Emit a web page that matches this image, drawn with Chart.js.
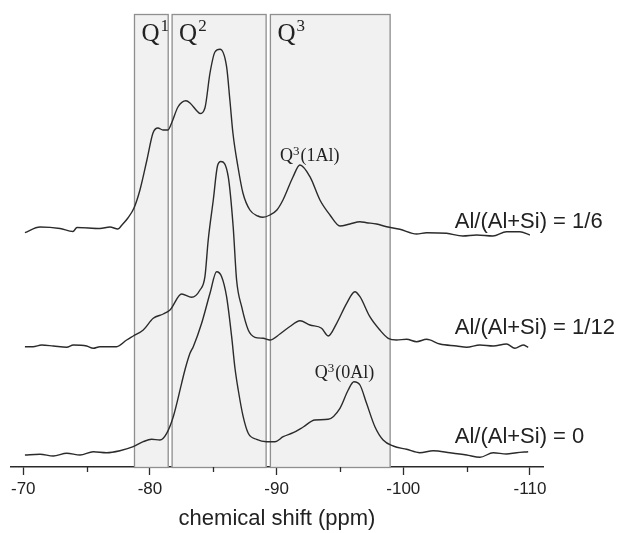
<!DOCTYPE html>
<html><head><meta charset="utf-8">
<script src="https://cdn.jsdelivr.net/npm/chart.js@4/dist/chart.umd.min.js"></script>
<style>html,body{margin:0;padding:0;background:#fff}canvas{display:block}</style>
</head><body>
<canvas id="c" width="619" height="533"></canvas>
<script>
// chemical shift (ppm) and intensity for each sample (stacked)
const shiftA = [-70.13,-71.32,-72.90,-73.92,-74.24,-76.05,-76.84,-77.47,-77.79,-78.26,-78.74,-79.21,-79.76,-80.24,-80.63,-81.03,-81.42,-81.74,-82.21,-82.84,-83.16,-83.71,-83.95,-84.34,-84.74,-85.13,-85.53,-86.05,-86.31,-86.55,-86.95,-87.34,-87.89,-88.52,-88.92,-89.47,-90.02,-90.50,-91.29,-91.84,-92.63,-93.42,-94.21,-95.00,-95.79,-96.58,-97.10,-97.89,-98.68,-99.73,-101.05,-101.84,-103.42,-104.70,-105.79,-107.07,-108.15,-109.20,-109.99];
const intA = [234.3,240,238.5,235.5,239.5,238.5,240,238,242,249,259,277,307,334,339,337,337,345,360,366.3,364,356,353.5,359,394,415,417.7,400.3,367,334,300,274,257,251,249.7,252,257,267,290,302,290.3,267,252,241,243,245.3,244.3,243,240.3,237.7,233,234.3,233.7,231,232,231,235.3,235.3,232];

const shiftB = [-70.13,-70.77,-71.45,-72.37,-73.43,-73.95,-75.00,-75.52,-76.05,-77.37,-78.16,-78.68,-79.47,-80.26,-81.05,-81.58,-82.50,-83.29,-83.95,-84.34,-84.60,-85.00,-85.33,-85.60,-86.18,-86.57,-86.84,-87.24,-87.76,-88.29,-88.94,-89.47,-90.26,-91.05,-91.84,-92.63,-93.55,-94.07,-94.74,-95.53,-96.18,-96.58,-97.36,-98.15,-98.81,-99.47,-100.26,-101.05,-101.84,-102.89,-104.21,-105.00,-106.05,-107.10,-108.15,-108.81,-109.46,-109.86];
const intB = [120.3,120.3,122,121,119.7,122,121,118.7,120.3,120.3,127,131,137,148.7,153,157,173,169.7,177,190.3,227,267,301,305.5,290.3,240.3,187,160.3,137,129.7,128.7,127,133,140.5,146.3,142,138.7,131,143.7,163.7,175.3,170.3,150.3,137,128.7,127,127.7,125.3,127.7,123,121,119.7,122,121,123,118.7,122,119.7];

const shiftC = [-70.13,-71.32,-72.37,-73.43,-74.48,-75.52,-76.58,-77.63,-78.68,-79.47,-80.13,-80.79,-81.32,-81.84,-82.50,-82.76,-83.16,-83.42,-84.08,-84.74,-85.26,-85.66,-86.05,-86.45,-86.71,-86.97,-87.36,-87.76,-88.42,-89.21,-89.87,-90.52,-91.31,-92.10,-93.02,-94.07,-95.00,-95.65,-96.10,-96.58,-97.10,-97.76,-98.41,-99.20,-100.26,-101.31,-102.36,-103.68,-105.00,-106.05,-107.10,-108.15,-108.94,-109.86];
const intC = [12,12.7,11,13.7,12,15.3,14.3,16.3,20.3,25.3,27.7,27,33.7,50.3,83.7,97,113.7,120.3,143.7,173.7,195.3,190.3,170.3,130.3,99,77,50.3,33.7,27.7,25.3,25.3,30.3,34.3,40,47,47.7,58.7,77,85.3,82,63.7,40.3,27,21,17.7,14.3,16.3,14.3,12,9.7,14.3,13,14.3,15.3];

const seriesLabels = ['Al/(Al+Si) = 1/6','Al/(Al+Si) = 1/12','Al/(Al+Si) = 0'];
const majorTicks = [-70,-80,-90,-100,-110];
const minorTicks = [-75,-85,-95,-105];
const regionSup = ['1','2','3'];
const regionStart = [-78.74,-81.71,-89.47];
const regionEnd = [-81.48,-89.21,-99.0];
const peakNames = ['(1Al)','(0Al)'];

const toPts = (xs, ys) => xs.map((x,i)=>({x:x, y:ys[i]}));

const LINE = '#2b2b2b';
const SANS = '"Liberation Sans", Arial, sans-serif';
const SERIF = '"Liberation Serif", "DejaVu Serif", serif';

const decor = {
  id:'decor',
  beforeDatasetsDraw(chart){
    const {ctx, scales:{x,y}} = chart;
    ctx.save();
    for (let i=0;i<regionStart.length;i++){
      const x0 = x.getPixelForValue(regionStart[i]);
      const x1 = x.getPixelForValue(regionEnd[i]);
      const yt = y.getPixelForValue(453);
      const yb = y.getPixelForValue(0);
      ctx.fillStyle = '#f1f1f1';
      ctx.fillRect(x0, yt, x1-x0, yb-yt);
      ctx.strokeStyle = '#8f8f8f';
      ctx.lineWidth = 1.3;
      ctx.strokeRect(x0+0.5, yt+0.5, x1-x0-1, yb-yt);
      // Q label
      const lx = x0 + 7.5, by = y.getPixelForValue(426);
      ctx.fillStyle = '#222';
      ctx.textBaseline = 'alphabetic';
      ctx.textAlign = 'left';
      ctx.font = '25px ' + SERIF;
      ctx.fillText('Q', lx, by);
      const w = ctx.measureText('Q').width;
      ctx.font = '17px ' + SERIF;
      ctx.fillText(regionSup[i], lx + w + 1, by - 10);
    }
    ctx.restore();
  },
  afterDraw(chart){
    const {ctx, scales:{x,y}} = chart;
    ctx.save();
    // minor ticks
    ctx.strokeStyle = LINE; ctx.lineWidth = 1.3;
    const y0 = y.getPixelForValue(0);
    minorTicks.forEach(v=>{
      const px = Math.round(x.getPixelForValue(v))+0.5;
      ctx.beginPath(); ctx.moveTo(px, y0); ctx.lineTo(px, y0+5); ctx.stroke();
    });
    // sample labels
    ctx.fillStyle = '#222';
    ctx.font = '22px ' + SANS;
    ctx.textAlign = 'left'; ctx.textBaseline = 'middle';
    const lblY = [245.3, 139, 30.5];
    seriesLabels.forEach((t,i)=>{
      ctx.fillText(t, x.getPixelForValue(-104.06), y.getPixelForValue(lblY[i]));
    });
    // peak labels
    const peakX = [-90.26, -93.02], peakY = [306, 89];
    peakNames.forEach((t,i)=>{
      const px = x.getPixelForValue(peakX[i]), py = y.getPixelForValue(peakY[i]);
      ctx.textBaseline = 'alphabetic';
      ctx.font = '18px ' + SERIF;
      ctx.fillText('Q', px, py);
      const w = ctx.measureText('Q').width;
      ctx.font = '13px ' + SERIF;
      ctx.fillText('3', px + w, py - 6);
      const w2 = ctx.measureText('3').width;
      ctx.font = '18px ' + SERIF;
      ctx.fillText(t, px + w + w2 + 1, py);
    });
    ctx.restore();
  }
};

const ds = (pts) => ({data:pts, borderColor:LINE, borderWidth:1.4, pointRadius:0, fill:false, cubicInterpolationMode:'monotone'});

new Chart(document.getElementById('c'), {
  type:'line',
  data:{datasets:[ds(toPts(shiftA,intA)), ds(toPts(shiftB,intB)), ds(toPts(shiftC,intC))]},
  options:{
    responsive:false, animation:false, devicePixelRatio:1,
    layout:{padding:{left:11, right:76, top:0, bottom:0}},
    plugins:{legend:{display:false}, tooltip:{enabled:false}},
    scales:{
      x:{type:'linear', reverse:true, min:-111.03, max:-69.03,
        afterBuildTicks(s){ s.ticks = majorTicks.map(v=>({value:v})); },
        afterFit(s){ s.height = 66; },
        border:{color:LINE, width:1.4},
        grid:{drawOnChartArea:false, drawTicks:true, tickLength:8, tickColor:LINE, tickWidth:1.3},
        ticks:{color:'#222', font:{family:SANS, size:17}, padding:4, maxRotation:0, autoSkip:false,
          callback:(v)=>String(v)},
        title:{display:true, text:'chemical shift (ppm)', color:'#222', font:{family:SANS, size:22}, padding:{top:0,bottom:1}}
      },
      y:{display:false, min:0, max:467}
    }
  },
  plugins:[decor]
});
</script>
</body></html>
